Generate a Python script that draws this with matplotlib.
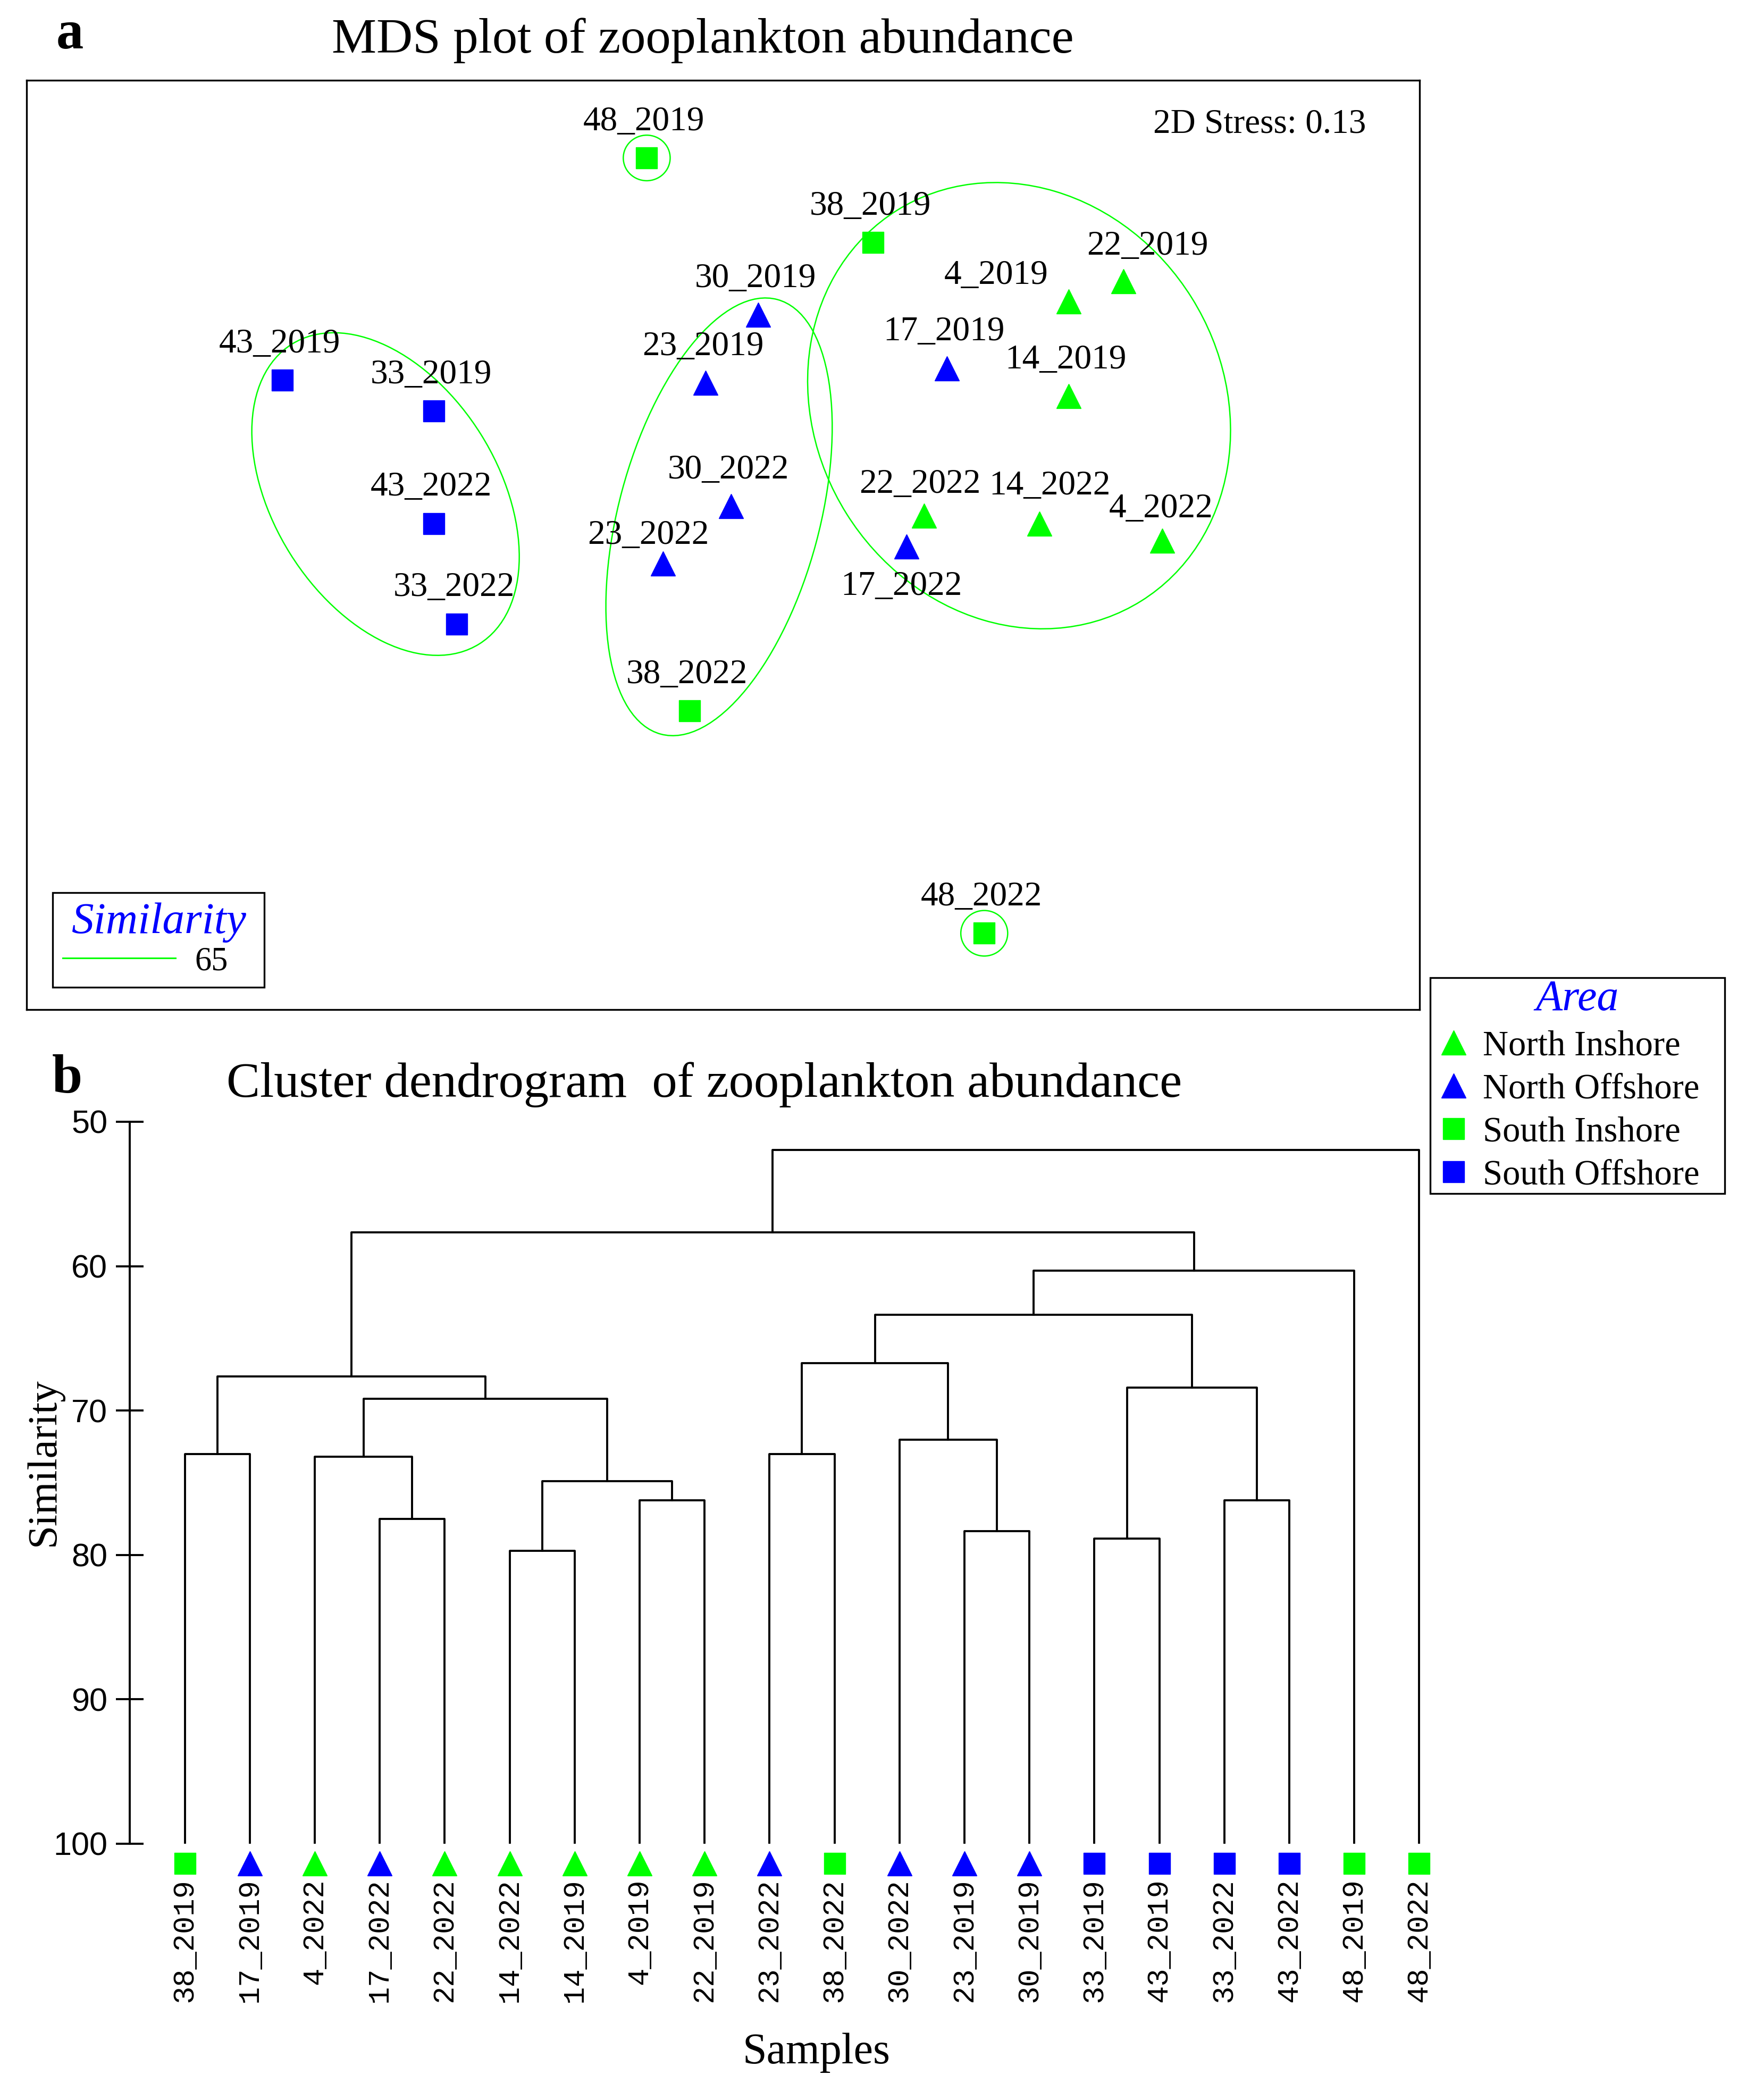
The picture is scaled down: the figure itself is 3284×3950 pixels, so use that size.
import matplotlib
matplotlib.use('Agg')
import matplotlib.pyplot as plt
from matplotlib.patches import Ellipse
from matplotlib.lines import Line2D

plt.rcParams['font.family'] = 'Liberation Serif'

# ---- data: MDS ordination (arbitrary units) ----
samples = ['48_2019', '38_2019', '22_2019', '4_2019', '30_2019', '17_2019', '14_2019',
           '43_2019', '23_2019', '33_2019', '30_2022', '22_2022', '14_2022', '4_2022',
           '17_2022', '43_2022', '23_2022', '33_2022', '38_2022', '48_2022']
mds_x = [-0.57, 1.12, 2.99, 2.58, 0.26, 1.67, 2.58, -3.29, -0.13, -2.16,
         0.06, 1.50, 2.36, 3.28, 1.37, -2.16, -0.45, -1.99, -0.25, 1.95]
mds_y = [2.89, 2.26, 1.97, 1.82, 1.72, 1.32, 1.11, 1.23, 1.21, 1.00,
         0.29, 0.22, 0.16, 0.03, -0.01, 0.16, -0.14, -0.59, -1.24, -2.90]
area = ['South Inshore', 'South Inshore', 'North Inshore', 'North Inshore', 'North Offshore',
        'North Offshore', 'North Inshore', 'South Offshore', 'North Offshore', 'South Offshore',
        'North Offshore', 'North Inshore', 'North Inshore', 'North Inshore', 'North Offshore',
        'South Offshore', 'North Offshore', 'South Offshore', 'South Inshore', 'South Inshore']
stress = 0.13
similarity_level = 65

# ---- data: cluster dendrogram ----
leaves = ['38_2019', '17_2019', '4_2022', '17_2022', '22_2022', '14_2022', '14_2019',
          '4_2019', '22_2019', '23_2022', '38_2022', '30_2022', '23_2019', '30_2019',
          '33_2019', '43_2019', '33_2022', '43_2022', '48_2019', '48_2022']
# (left node, right node, similarity); new nodes numbered from len(leaves)
merges = [(0, 1, 73.0), (3, 4, 77.5), (2, 21, 73.2), (5, 6, 79.7), (7, 8, 76.2),
          (23, 24, 74.9), (22, 25, 69.2), (20, 26, 67.65), (9, 10, 73.0), (12, 13, 78.35),
          (11, 29, 72.0), (28, 30, 66.7), (14, 15, 78.85), (16, 17, 76.2), (32, 33, 68.4),
          (31, 34, 63.35), (35, 18, 60.3), (27, 36, 57.65), (37, 19, 51.95)]

area_order = ['North Inshore', 'North Offshore', 'South Inshore', 'South Offshore']
style = {'North Inshore': ('^', '#00FF00'), 'North Offshore': ('^', '#0000FF'),
         'South Inshore': ('s', '#00FF00'), 'South Offshore': ('s', '#0000FF')}
msize = {'^': 33, 's': 29}

# label offsets (data units) for the MDS point labels
lab_off = {'22_2019': (0.18, 0.26), '4_2019': (-0.54, 0.19), '14_2022': (0.08, 0.28),
           '17_2022': (-0.04, -0.30), '23_2022': (-0.11, 0.21), '22_2022': (-0.03, 0.23),
           '4_2022': (-0.01, 0.24)}

W, H = 3284, 3950
fig = plt.figure(figsize=(W / 100, H / 100), dpi=100)

# ================= panel a =================
ax = fig.add_axes([50 / W, 1 - 1899 / H, 2620 / W, 1748 / H])
ax.set_xlim(-5.2, 5.2)
ax.set_ylim(-3.47, 3.47)
ax.set_xticks([])
ax.set_yticks([])
for s in ax.spines.values():
    s.set_linewidth(2.4)

green = '#00FF00'
ells = [((-2.52, 0.38), 2.64, 1.68, -58), ((-0.03, 0.21), 3.36, 1.50, 75),
        ((2.21, 1.04), 3.44, 3.04, -58)]
for c, w, h, ang in ells:
    ax.add_patch(Ellipse(c, w, h, angle=ang, fill=False, ec=green, lw=1.8))
for nm in ['48_2019', '48_2022']:
    i = samples.index(nm)
    ax.add_patch(Ellipse((mds_x[i], mds_y[i]), 0.35, 0.34, fill=False, ec=green, lw=1.8))

for i, nm in enumerate(samples):
    mk, col = style[area[i]]
    ax.plot(mds_x[i], mds_y[i], marker=mk, color=col, ms=msize[mk], linestyle='none')
    dx, dy = lab_off.get(nm, (-0.02, 0.27))
    ax.text(mds_x[i] + dx, mds_y[i] + dy, nm, ha='center', va='center', fontsize=47)

ax.text(0.9615, 0.9525, '2D Stress: %.2f' % stress, transform=ax.transAxes,
        ha='right', va='center', fontsize=47)

sim_h = [Line2D([], [], color=green, lw=2.2)]
leg1 = ax.legend(sim_h, [str(similarity_level)], loc='lower left',
                 bbox_to_anchor=(49 / 2620, 42 / 1748, 398 / 2620, 176 / 1748), mode='expand',
                 borderaxespad=0, fontsize=45, title='Similarity', title_fontsize=60,
                 handlelength=3.4, handletextpad=0.58, borderpad=0.3, labelspacing=0.12,
                 fancybox=False, edgecolor='black', framealpha=1)
leg1.get_frame().set_linewidth(2.4)
leg1.get_title().set_color('blue')
leg1.get_title().set_fontstyle('italic')

fig.text(1322 / W, 1 - 76 / H, 'MDS plot of zooplankton abundance', ha='center',
         va='center', fontsize=68)
fig.text(131 / W, 1 - 66 / H, 'a', ha='center', va='center', fontsize=74,
         fontweight='bold')

# ================= panel b =================
ax2 = fig.add_axes([244 / W, 1 - 3468 / H, 2456 / W, 1358 / H])
ax2.set_xlim(-0.847, 19.25)
ax2.set_ylim(100, 50)
for s in ['top', 'right', 'bottom']:
    ax2.spines[s].set_visible(False)
ax2.spines['left'].set_linewidth(2.8)
ax2.set_xticks([])
ax2.set_yticks([50, 60, 70, 80, 90, 100])
ax2.tick_params(axis='y', direction='inout', length=38, width=2.8, pad=11,
                labelsize=44, labelfontfamily=['Liberation Sans Narrow', 'Liberation Sans'])

n = len(leaves)
node_x = {i: float(i) for i in range(n)}
node_h = {i: 100.0 for i in range(n)}
for k, (a, b, h) in enumerate(merges):
    ax2.plot([node_x[a], node_x[a], node_x[b], node_x[b]],
             [node_h[a], h, h, node_h[b]], color='black', lw=2.8)
    node_x[n + k] = (node_x[a] + node_x[b]) / 2
    node_h[n + k] = h

area_of = dict(zip(samples, area))
for i, nm in enumerate(leaves):
    mk, col = style[area_of[nm]]
    ax2.plot(i, 101.36, marker=mk, color=col, ms=msize[mk], linestyle='none', clip_on=False)
    ax2.text(i, 102.4, nm, rotation=90, ha='center', va='top', fontsize=40,
             family='Liberation Mono')

ax2.set_ylabel('Similarity', fontsize=57)
ax2.yaxis.set_label_coords(-0.051, 0.5287)
ax2.set_xlabel('Samples', fontsize=59)
ax2.xaxis.set_label_coords(0.526, -0.262)

fig.text(1325 / W, 1 - 2040 / H, 'Cluster dendrogram  of zooplankton abundance',
         ha='center', va='center', fontsize=68)
fig.text(126 / W, 1 - 2030 / H, 'b', ha='center', va='center', fontsize=74,
         fontweight='bold')

# ---- Area legend ----
handles = [Line2D([], [], marker=style[a][0], color=style[a][1], ms=msize[style[a][0]],
                  linestyle='none') for a in area_order]
leg2 = fig.legend(handles, area_order, loc='upper left',
                  bbox_to_anchor=(2690 / W, 1 - 2241 / H, 554 / W, 402 / H), mode='expand',
                  borderaxespad=0, fontsize=48, title='Area', title_fontsize=59,
                  handlelength=1.22, handletextpad=0.21, borderpad=0.05, labelspacing=0.3,
                  fancybox=False, edgecolor='black', framealpha=1)
leg2.get_frame().set_linewidth(2.4)
leg2.get_title().set_color('blue')
leg2.get_title().set_fontstyle('italic')

fig.savefig('out.png', dpi=100)
